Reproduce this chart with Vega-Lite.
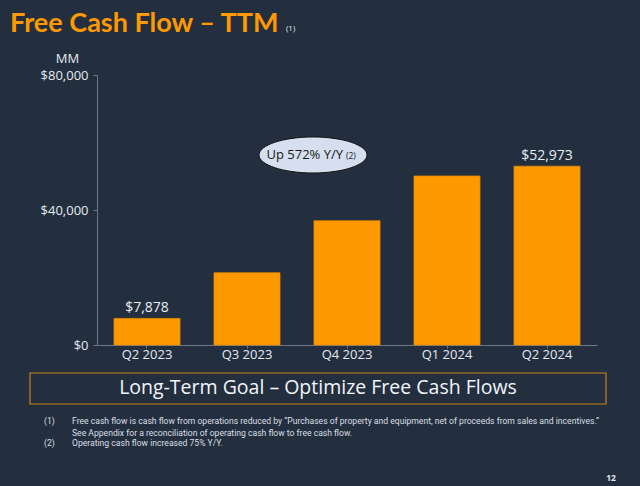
{
  "$schema": "https://vega.github.io/schema/vega-lite/v6.json",
  "autosize": {"type": "none"},
  "width": 500,
  "height": 270,
  "padding": {"left": 97, "top": 75, "right": 43, "bottom": 141},
  "background": "#232F3E",
  "config": {"view": {"stroke": null}, "font": "Open Sans"},
  "data": {"values": [
    {"quarter": "Q2 2023", "fcf": 7878, "label": "$7,878"},
    {"quarter": "Q3 2023", "fcf": 21399, "label": ""},
    {"quarter": "Q4 2023", "fcf": 36813, "label": ""},
    {"quarter": "Q1 2024", "fcf": 50067, "label": ""},
    {"quarter": "Q2 2024", "fcf": 52973, "label": "$52,973"}
  ]},
  "encoding": {
    "x": {"field": "quarter", "type": "nominal", "sort": null,
      "scale": {"paddingInner": 0.34, "paddingOuter": 0.17},
      "axis": {"title": null, "labelAngle": 0, "labelColor": "#E3E9F2", "labelFontSize": 13,
        "labelPadding": 0, "tickSize": 3, "tickColor": "#6E7784", "domainColor": "#6E7784"}},
    "y": {"field": "fcf", "type": "quantitative",
      "scale": {"domain": [0, 80000], "nice": false},
      "axis": {"values": [0, 40000, 80000], "format": "$,.0f", "grid": false,
        "labelColor": "#E3E9F2", "labelFontSize": 13, "labelPadding": 5, "tickSize": 4,
        "tickColor": "#6E7784", "domainColor": "#6E7784",
        "title": "MM", "titleAngle": 0, "titleX": -30, "titleY": -17, "titleAlign": "center",
        "titleBaseline": "middle", "titleColor": "#E3E9F2", "titleFontSize": 13, "titleFontWeight": "normal"}}
  },
  "layer": [
    {"mark": {"type": "bar", "color": "#FF9900", "stroke": "#E58A00", "strokeWidth": 0.8}},
    {"transform": [{"filter": "datum.label != ''"}],
     "mark": {"type": "text", "color": "#E8EEF6", "fontSize": 14, "baseline": "alphabetic", "dy": -6},
     "encoding": {"text": {"field": "label"}}},
    {"transform": [{"filter": "datum.quarter == 'Q3 2023'"}],
     "mark": {"type": "point", "shape": "M -1 0 A 1 0.3333 0 1 1 1 0 A 1 0.3333 0 1 1 -1 0 Z",
       "size": 11664, "filled": true, "fill": "#D5DFEF", "stroke": "#111111", "strokeWidth": 1, "opacity": 1, "xOffset": 66},
     "encoding": {"y": {"datum": 56300}}},
    {"transform": [{"filter": "datum.quarter == 'Q3 2023'"}],
     "mark": {"type": "text", "text": "Up 572% Y/Y", "align": "right", "dx": 96, "fontSize": 13, "color": "#1A1A1A", "baseline": "middle"},
     "encoding": {"y": {"datum": 56300}}},
    {"transform": [{"filter": "datum.quarter == 'Q3 2023'"}],
     "mark": {"type": "text", "text": "(2)", "align": "left", "dx": 99, "dy": 1, "fontSize": 8.5, "color": "#1A1A1A", "baseline": "middle"},
     "encoding": {"y": {"datum": 56300}}},
    {"data": {"values": [{}]},
     "mark": {"type": "text", "text": "Free Cash Flow – TTM", "align": "left", "baseline": "alphabetic",
       "fontSize": 27, "fontWeight": "bold", "color": "#FF9900", "font": "Lato"},
     "encoding": {"x": {"value": -87}, "y": {"value": -43}}},
    {"data": {"values": [{}]},
     "mark": {"type": "text", "text": "(1)", "align": "left", "baseline": "alphabetic",
       "fontSize": 8, "color": "#E3E9F2"},
     "encoding": {"x": {"value": 189}, "y": {"value": -44}}},
    {"data": {"values": [{}]},
     "mark": {"type": "rect", "fill": null, "fillOpacity": 0, "stroke": "#C98419", "strokeWidth": 1.2},
     "encoding": {"x": {"value": -67}, "x2": {"value": 509}, "y": {"value": 298}, "y2": {"value": 329}}},
    {"data": {"values": [{}]},
     "mark": {"type": "text", "text": "Long-Term Goal – Optimize Free Cash Flows", "align": "center", "baseline": "middle",
       "fontSize": 19.5, "color": "#F2F5FA"},
     "encoding": {"x": {"value": 221}, "y": {"value": 313}}},
    {"data": {"values": [{}]},
     "mark": {"type": "text", "text": "(1)", "align": "left", "baseline": "middle", "fontSize": 8.6, "color": "#DADFE6", "font": "Roboto"},
     "encoding": {"x": {"value": -53}, "y": {"value": 346}}},
    {"data": {"values": [{}]},
     "mark": {"type": "text", "text": ["Free cash flow is cash flow from operations reduced by “Purchases of property and equipment, net of proceeds from sales and incentives.”", "See Appendix for a reconciliation of operating cash flow to free cash flow."],
       "align": "left", "baseline": "middle", "lineHeight": 11.5, "fontSize": 8.6, "color": "#DADFE6", "font": "Roboto"},
     "encoding": {"x": {"value": -25}, "y": {"value": 346}}},
    {"data": {"values": [{}]},
     "mark": {"type": "text", "text": "(2)", "align": "left", "baseline": "middle", "fontSize": 8.6, "color": "#DADFE6", "font": "Roboto"},
     "encoding": {"x": {"value": -53}, "y": {"value": 368}}},
    {"data": {"values": [{}]},
     "mark": {"type": "text", "text": "Operating cash flow increased 75% Y/Y.", "align": "left", "baseline": "middle", "fontSize": 8.6, "color": "#DADFE6", "font": "Roboto"},
     "encoding": {"x": {"value": -25}, "y": {"value": 368}}},
    {"data": {"values": [{}]},
     "mark": {"type": "text", "text": "12", "align": "center", "baseline": "middle", "fontSize": 8.5, "fontWeight": "bold", "color": "#E3E9F2"},
     "encoding": {"x": {"value": 514}, "y": {"value": 403}}}
  ]
}
